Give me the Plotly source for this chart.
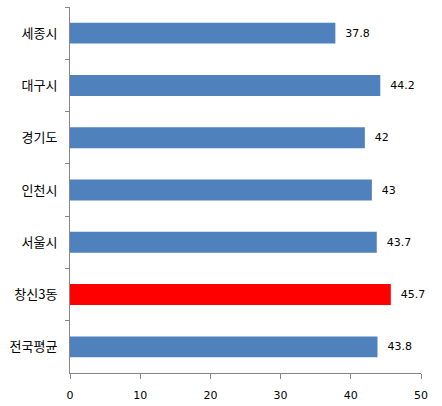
import plotly.graph_objects as go

categories = ["세종시", "대구시", "경기도", "인천시", "서울시", "창신3동", "전국평균"]
values = [37.8, 44.2, 42, 43, 43.7, 45.7, 43.8]
labels = ["37.8", "44.2", "42", "43", "43.7", "45.7", "43.8"]
colors = ["#4F81BD", "#4F81BD", "#4F81BD", "#4F81BD", "#4F81BD", "#FF0000", "#4F81BD"]
x_ticks = [0, 10, 20, 30, 40, 50]

fig = go.Figure(go.Bar(
    y=categories, x=values, orientation="h",
    marker=dict(color=colors, line=dict(width=0)),
    text=labels, texttemplate="  %{text}", textposition="outside", cliponaxis=False,
    textfont=dict(size=11, color="#000000", family="DejaVu Sans"),
))
fig.update_layout(
    width=442, height=406,
    margin=dict(l=70, r=21, t=7, b=33),
    paper_bgcolor="white", plot_bgcolor="white",
    bargap=0.6, showlegend=False,
    font=dict(family="Noto Sans CJK KR", size=12, color="#000000"),
)
fig.update_xaxes(range=[0, 50], tickvals=x_ticks, showgrid=False, zeroline=False,
                 showline=True, linecolor="#868686", linewidth=1, automargin=False,
                 ticks="outside", ticklen=5, tickcolor="#868686", ticklabelstandoff=7,
                 tickfont=dict(family="DejaVu Sans", size=11))
fig.update_yaxes(categoryorder="array", categoryarray=categories, autorange="reversed",
                 showgrid=False, zeroline=False, showline=True, linecolor="#868686", linewidth=1,
                 automargin=False,
                 ticks="outside", ticklen=4, tickcolor="#868686", tickson="boundaries",
                 tickfont=dict(size=13), ticklabelstandoff=9)
fig.write_html("out.html", config={"displayModeBar": False},
               post_script="document.body.style.margin='0';")
